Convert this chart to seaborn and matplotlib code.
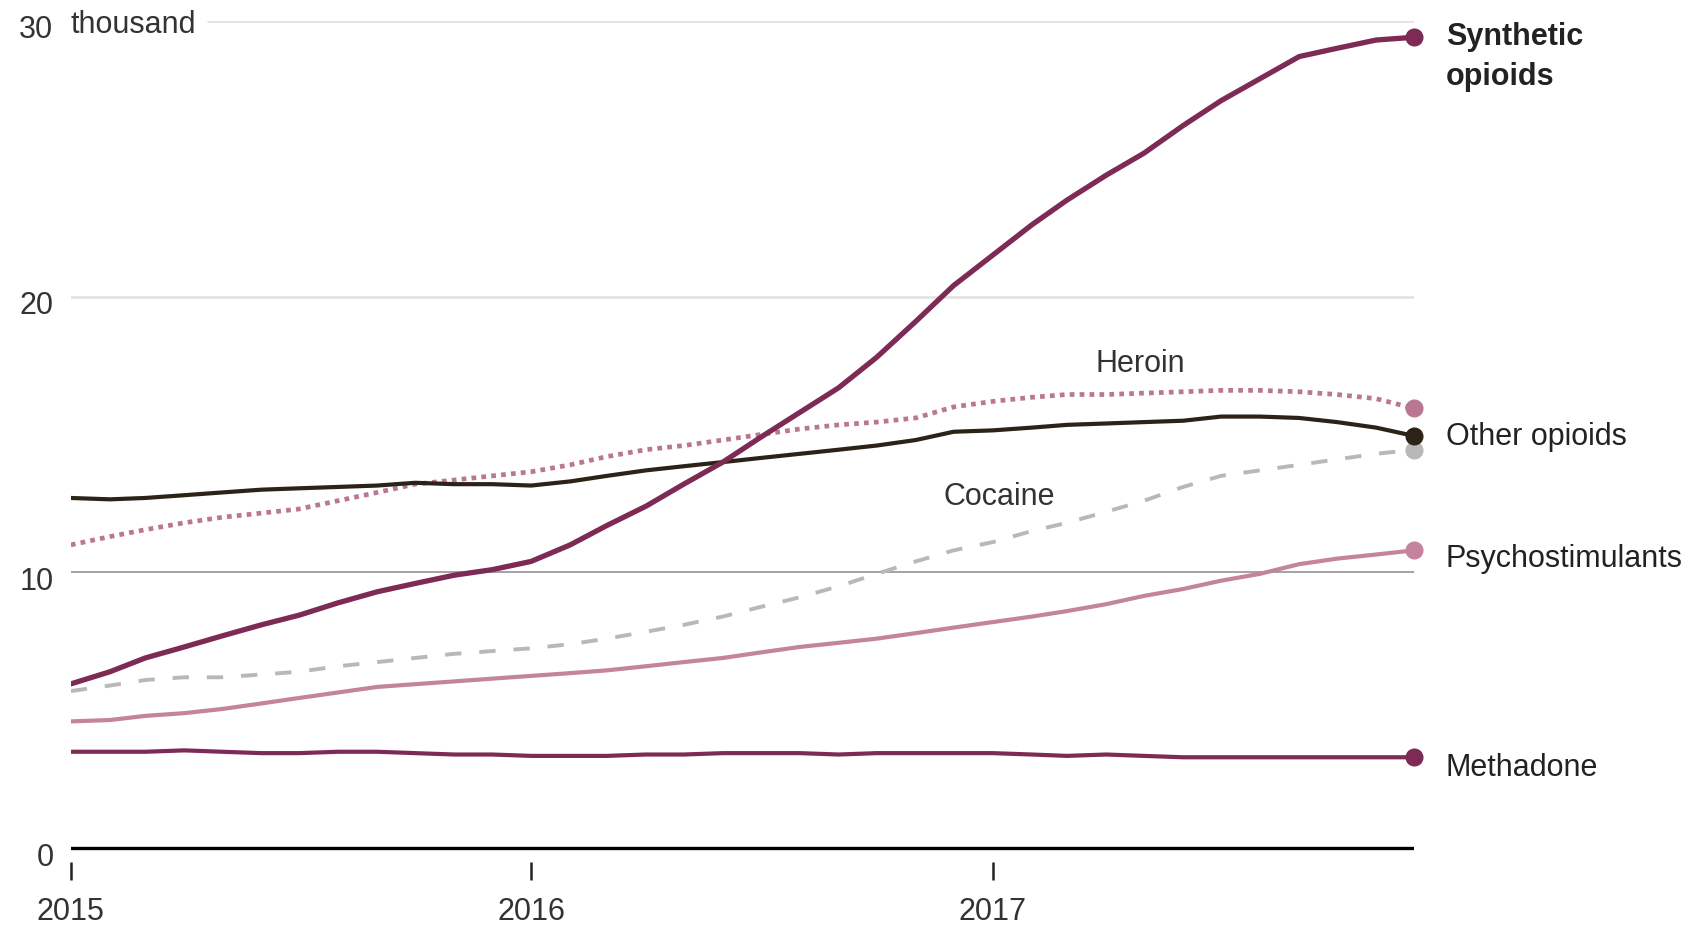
import numpy as np
import pandas as pd
import matplotlib.pyplot as plt
import matplotlib.transforms as mtransforms
import seaborn as sns

sns.set_theme(style="white")
plt.rcParams['font.family'] = ['Liberation Sans', 'DejaVu Sans']

# monthly, 12-month-ending overdose deaths (thousands), Jan 2015 - Dec 2017
months = pd.date_range("2015-01-01", periods=36, freq="MS")

synthetic = [5.96, 6.4, 6.9, 7.3, 7.7, 8.1, 8.45, 8.9, 9.3, 9.6, 9.9, 10.1,
             10.4, 11.0, 11.7, 12.4, 13.2, 14.0, 14.9, 15.8, 16.7, 17.8, 19.1, 20.4,
             21.5, 22.6, 23.5, 24.4, 25.2, 26.2, 27.1, 27.9, 28.7, 29.0, 29.3, 29.4]
other_opioids = [12.7, 12.65, 12.7, 12.8, 12.9, 13.0, 13.05, 13.1, 13.15, 13.25, 13.2, 13.2,
                 13.15, 13.3, 13.5, 13.7, 13.85, 14.0, 14.15, 14.3, 14.45, 14.6, 14.8, 15.1,
                 15.15, 15.25, 15.35, 15.4, 15.45, 15.5, 15.65, 15.65, 15.6, 15.45, 15.25, 14.95]
heroin = [11.0, 11.3, 11.55, 11.8, 12.0, 12.15, 12.3, 12.6, 12.9, 13.2, 13.35, 13.5,
          13.65, 13.9, 14.2, 14.45, 14.6, 14.8, 15.0, 15.2, 15.35, 15.45, 15.6, 16.0,
          16.2, 16.35, 16.45, 16.45, 16.5, 16.55, 16.6, 16.6, 16.55, 16.45, 16.3, 15.95]
cocaine = [5.7, 5.9, 6.1, 6.2, 6.2, 6.3, 6.4, 6.6, 6.75, 6.9, 7.05, 7.15,
           7.25, 7.4, 7.6, 7.85, 8.1, 8.4, 8.75, 9.1, 9.5, 9.95, 10.4, 10.8,
           11.1, 11.5, 11.8, 12.2, 12.6, 13.1, 13.5, 13.7, 13.9, 14.1, 14.3, 14.45]
psychostimulants = [4.6, 4.65, 4.8, 4.9, 5.05, 5.25, 5.45, 5.65, 5.85, 5.95, 6.05, 6.15,
                    6.25, 6.35, 6.45, 6.6, 6.75, 6.9, 7.1, 7.3, 7.45, 7.6, 7.8, 8.0,
                    8.2, 8.4, 8.6, 8.85, 9.15, 9.4, 9.7, 9.95, 10.3, 10.5, 10.65, 10.8]
methadone = [3.5, 3.5, 3.5, 3.55, 3.5, 3.45, 3.45, 3.5, 3.5, 3.45, 3.4, 3.4,
             3.35, 3.35, 3.35, 3.4, 3.4, 3.45, 3.45, 3.45, 3.4, 3.45, 3.45, 3.45,
             3.45, 3.4, 3.35, 3.4, 3.35, 3.3, 3.3, 3.3, 3.3, 3.3, 3.3, 3.3]

y_ticks = [0, 10, 20, 30]
x_ticks = pd.to_datetime(["2015-01-01", "2016-01-01", "2017-01-01"])
x_labels = ["2015", "2016", "2017"]

df = pd.DataFrame({"month": months, "Synthetic opioids": synthetic,
                   "Other opioids": other_opioids, "Heroin": heroin,
                   "Cocaine": cocaine, "Psychostimulants": psychostimulants,
                   "Methadone": methadone})

fig = plt.figure(figsize=(16.99, 9.25), dpi=100)
ax = fig.add_axes([0.0417, 0.068, 0.7905, 0.9096])

# gridlines
ax.axhline(30, xmin=0.102, xmax=1, color="#e3e3e3", lw=2, zorder=0)
ax.axhline(20, color="#e3e3e3", lw=2, zorder=0)
ax.axhline(10, color="#8a8a8a", lw=1.1, zorder=0)
ax.axhline(0, color="black", lw=2.4, zorder=1)

# series: (column, color, width, linestyle)
styles = [("Methadone", "#7d2a55", 3.0, "-"),
          ("Psychostimulants", "#c4849c", 3.0, "-"),
          ("Cocaine", "#b8b8b8", 2.8, (0, (4.2, 4.6))),
          ("Heroin", "#b97890", 3.4, (0, (1, 1.1))),
          ("Other opioids", "#2b2218", 3.0, "-"),
          ("Synthetic opioids", "#7d2a55", 3.8, "-")]

for i, (col, color, lw, ls) in enumerate(styles):
    sns.lineplot(data=df, x="month", y=col, ax=ax, color=color, lw=lw,
                 linestyle=ls, zorder=3 + i)
    ax.plot(df["month"].iloc[-1], df[col].iloc[-1], "o", color=color,
            ms=12, zorder=3 + i, clip_on=False)

ax.set_xlim(months[0], months[-1])
ax.set_ylim(-0.5, 30)
for s in ax.spines.values():
    s.set_visible(False)

ax.set_xticks(x_ticks)
ax.set_xticklabels(x_labels)
ax.tick_params(axis="x", bottom=True, direction="out", length=13, width=1.8,
               color="#222222", pad=12, labelsize=22, labelcolor="#333333")
ax.set_yticks([])
ax.set_xlabel("")
ax.set_ylabel("")

trans = mtransforms.blended_transform_factory(ax.transAxes, ax.transData)
for v in y_ticks:
    ax.text(-0.013, v - 0.35, str(v), transform=trans, ha="right", va="center",
            fontsize=22, color="#333333")
ax.text(0.0, 30 - 0.15, "thousand", transform=trans, ha="left", va="center",
        fontsize=22, color="#333333")

# end labels
ends = [("Synthetic\nopioids", "Synthetic opioids", -14, "bold"),
        ("Other opioids", "Other opioids", -1, "normal"),
        ("Psychostimulants", "Psychostimulants", -6, "normal"),
        ("Methadone", "Methadone", -8, "normal")]
for text, col, dy, weight in ends:
    ax.annotate(text, (df["month"].iloc[-1], df[col].iloc[-1]),
                xytext=(23, dy), textcoords="offset points", ha="left",
                va="center", fontsize=22, fontweight=weight, color="#222222",
                linespacing=1.45, annotation_clip=False)

ax.text(pd.Timestamp("2017-04-28"), 17.55, "Heroin", ha="center", va="center",
        fontsize=22, color="#333333")
ax.text(pd.Timestamp("2017-01-06"), 12.75, "Cocaine", ha="center", va="center",
        fontsize=22, color="#333333")

fig.savefig("out.png", dpi=100, facecolor="white")
